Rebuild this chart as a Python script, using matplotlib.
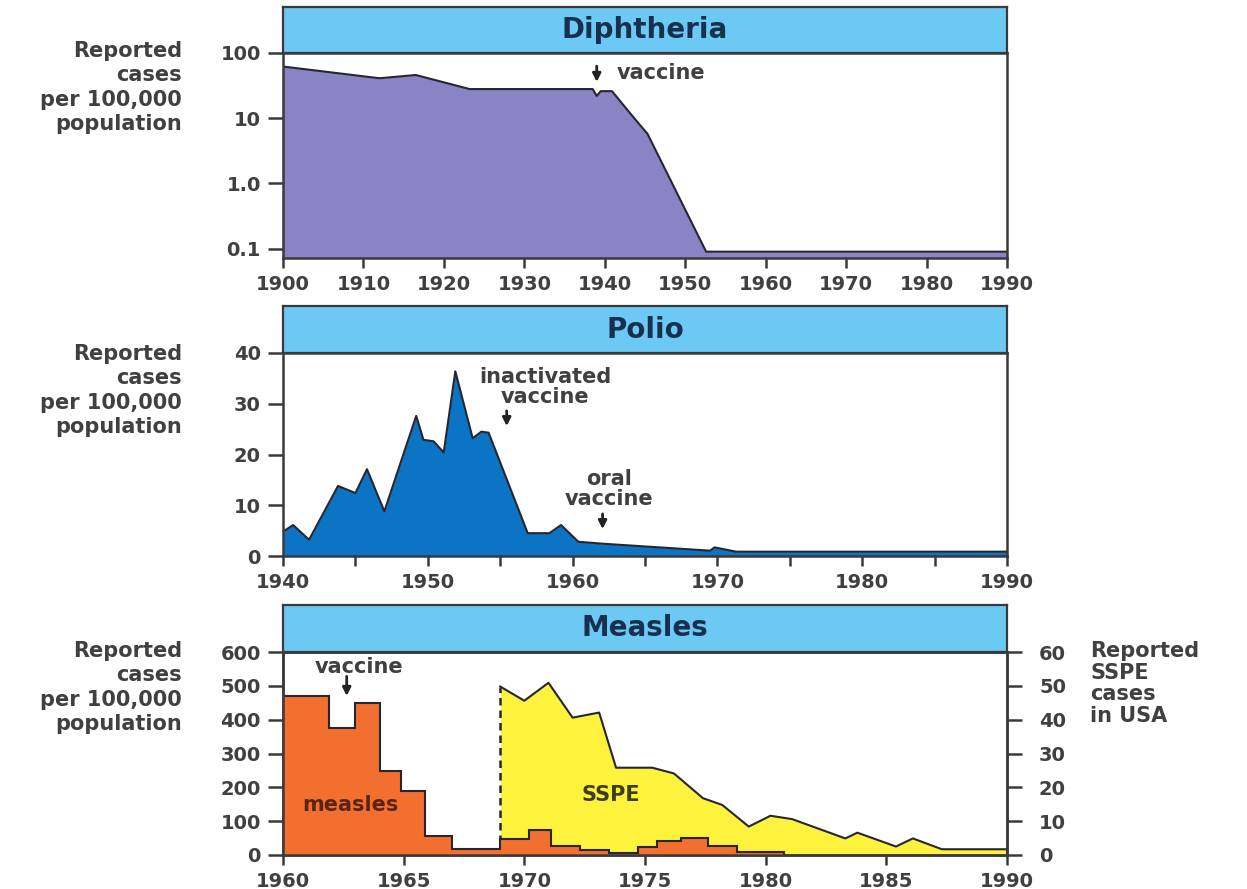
import matplotlib.pyplot as plt
from matplotlib.ticker import FixedLocator, NullLocator

plt.rcParams['font.family'] = ['DejaVu Sans']
plt.rcParams['font.weight'] = 'bold'

# === data
diph_years = [1900, 1912, 1916.5, 1923.2, 1938.5, 1939, 1939.5, 1940.9, 1942.9, 1944.6, 1945.3, 1952.6, 1990]
diph_cases = [62, 41, 46, 28, 28, 22, 26, 26, 13, 7.3, 5.8, 0.09, 0.09]

polio_years = [1940, 1940.7, 1941.8, 1943.8, 1945, 1945.8, 1947, 1949.2, 1949.7, 1950.4, 1951.1,
               1951.9, 1953.1, 1953.7, 1954.2, 1956.9, 1958.4, 1959.2, 1960.4, 1962.2, 1969.5,
               1969.8, 1971.3, 1990]
polio_cases = [4.8, 6.1, 3.2, 13.8, 12.4, 17.1, 8.8, 27.6, 22.9, 22.6, 20.4,
               36.4, 23.2, 24.5, 24.3, 4.5, 4.5, 6.1, 2.8, 2.4, 1.05,
               1.7, 0.85, 0.85]

measles_edges = [1960, 1961.9, 1963.0, 1964.0, 1964.9, 1965.9, 1967.0, 1969.0, 1970.2, 1971.1,
                 1972.3, 1973.5, 1974.7, 1975.5, 1976.5, 1977.6, 1978.8, 1980.75]
measles_cases = [470, 374, 448, 248, 190, 57, 17, 46, 74, 27, 15, 7, 24, 41, 50, 27, 10]

sspe_years = [1969, 1970, 1971, 1972, 1973.1, 1973.8, 1975.3, 1976.2, 1977.4, 1978.2, 1979.3,
              1980.2, 1981.1, 1983.3, 1983.8, 1985.4, 1986.1, 1987.3, 1990]
sspe_cases = [49.8, 45.6, 50.9, 40.6, 42.1, 25.8, 25.8, 24.1, 16.8, 14.8, 8.4,
              11.6, 10.6, 4.9, 6.6, 2.5, 4.9, 1.7, 1.7]

band_col = '#6cc9f3'
edge_col = '#262630'
spine_col = '#3a3a3a'
txt_col = '#404040'
title_col = '#18304f'

W, H = 1247, 889
fig = plt.figure(figsize=(W / 100, H / 100), dpi=100)


def px_axes(x0, y0, x1, y1):
    return fig.add_axes([x0 / W, 1 - y1 / H, (x1 - x0) / W, (y1 - y0) / H])


def band(y0, y1, title):
    b = px_axes(283, y0, 1007, y1)
    b.set_facecolor(band_col)
    b.set_xticks([])
    b.set_yticks([])
    for s in b.spines.values():
        s.set_color(spine_col)
        s.set_linewidth(1.6)
    b.text(0.5, 0.5, title, ha='center', va='center', fontsize=20,
           color=title_col, transform=b.transAxes)


def style(ax):
    for s in ax.spines.values():
        s.set_color(spine_col)
        s.set_linewidth(1.8)
    ax.tick_params(axis='y', direction='out', length=11, width=1.8, pad=5,
                   labelsize=14, colors=spine_col, labelcolor=txt_col)
    ax.tick_params(axis='x', direction='out', length=7, width=1.8, pad=5,
                   labelsize=14, colors=spine_col, labelcolor=txt_col)


def ylabel(y_top):
    fig.text(182 / W, 1 - y_top / H, 'Reported\ncases\nper 100,000\npopulation',
             ha='right', va='top', fontsize=15, color=txt_col, linespacing=1.28)


def arrow(ax, x, y_from, y_to):
    ax.annotate('', xy=(x, y_to), xytext=(x, y_from),
                arrowprops=dict(arrowstyle='-|>', color='#222222', lw=2, mutation_scale=12,
                                shrinkA=0, shrinkB=0))


# === Diphtheria
band(7, 53, 'Diphtheria')
ax1 = px_axes(283, 53, 1007, 258)
ax1.fill_between(diph_years, diph_cases, 0.01, color='#8a84c4', lw=0)
ax1.plot(diph_years, diph_cases, color=edge_col, lw=1.5)
ax1.set_yscale('log')
ax1.set_ylim(0.072, 100)
ax1.set_xlim(1900, 1990)
ax1.yaxis.set_major_locator(FixedLocator([0.1, 1, 10, 100]))
ax1.yaxis.set_minor_locator(NullLocator())
ax1.set_yticklabels(['0.1', '1.0', '10', '100'])
ax1.set_xticks(range(1900, 1991, 10))
style(ax1)
arrow(ax1, 1939, 63, 36)
ax1.text(1941.5, 49, 'vaccine', ha='left', va='center', fontsize=15, color=txt_col)
ylabel(41)

# === Polio
band(306, 353, 'Polio')
ax2 = px_axes(283, 353, 1007, 556)
ax2.fill_between(polio_years, polio_cases, 0, color='#0b74c4', lw=0)
ax2.plot(polio_years, polio_cases, color=edge_col, lw=1.5)
ax2.set_ylim(0, 40)
ax2.set_xlim(1940, 1990)
ax2.set_yticks(range(0, 41, 10))
ax2.set_xticks(range(1940, 1991, 5))
ax2.set_xticklabels([str(y) if y % 10 == 0 else '' for y in range(1940, 1991, 5)])
style(ax2)
ax2.text(1958.1, 33.3, 'inactivated\nvaccine', ha='center', va='center', fontsize=15,
         color=txt_col, linespacing=1.0)
arrow(ax2, 1955.45, 28.6, 25.6)
ax2.text(1962.5, 13.3, 'oral\nvaccine', ha='center', va='center', fontsize=15,
         color=txt_col, linespacing=1.0)
arrow(ax2, 1962.07, 8.3, 5.3)
ylabel(344)

# === Measles + SSPE
band(605, 652, 'Measles')
ax3 = px_axes(283, 652, 1007, 855)
ax4 = ax3.twinx()
ax3.set_zorder(ax4.get_zorder() + 1)
ax3.patch.set_visible(False)

ax4.fill_between(sspe_years, sspe_cases, 0, color='#fdf23c', lw=0)
ax4.plot(sspe_years, sspe_cases, color=edge_col, lw=1.5)
ax4.vlines(sspe_years[0], 0, sspe_cases[0], colors=edge_col, linestyles=(0, (3, 2)), lw=1.8)
ax4.set_ylim(0, 60)
ax4.set_yticks(range(0, 61, 10))

ax3.stairs(measles_cases, measles_edges, fill=True, color='#f26f2f', lw=0)
ax3.stairs(measles_cases, measles_edges, color=edge_col, lw=1.5)
ax3.set_ylim(0, 600)
ax3.set_xlim(1960, 1990)
ax3.set_yticks(range(0, 601, 100))
ax3.set_xticks(range(1960, 1991, 5))
style(ax3)
style(ax4)
ax4.tick_params(axis='y', length=11, pad=12)
ax3.text(1963.15, 557, 'vaccine', ha='center', va='center', fontsize=15, color=txt_col)
arrow(ax3, 1962.64, 528, 470)
ax3.text(1962.78, 148, 'measles', ha='center', va='center', fontsize=15, color='#5a2418')
ax3.text(1973.6, 177, 'SSPE', ha='center', va='center', fontsize=15, color='#3d3d1f')
ylabel(641)
fig.text(1090 / W, 1 - 641 / H, 'Reported\nSSPE\ncases\nin USA', ha='left', va='top',
         fontsize=15, color=txt_col, linespacing=1.1)

fig.savefig('out.png', dpi=100)
